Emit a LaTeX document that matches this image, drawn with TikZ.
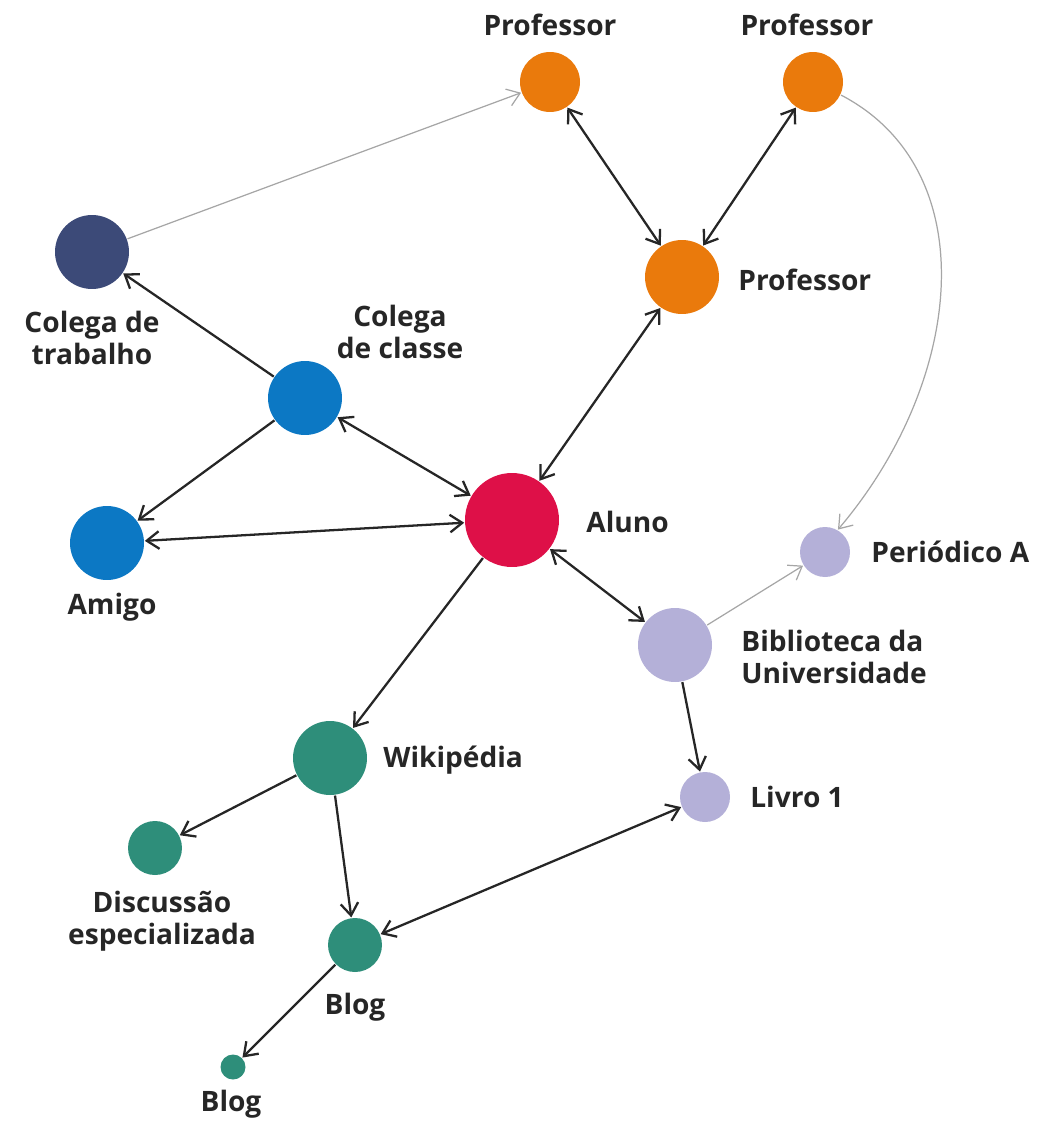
\documentclass[tikz,border=0pt]{standalone}
\usepackage{fontspec}
\setmainfont{Open Sans}
\usetikzlibrary{arrows.meta}
\definecolor{laranja}{RGB}{234,122,12}
\definecolor{marinho}{RGB}{60,74,120}
\definecolor{azul}{RGB}{12,120,196}
\definecolor{vermelho}{RGB}{222,16,72}
\definecolor{lilas}{RGB}{180,176,216}
\definecolor{verde}{RGB}{46,142,122}
\begin{document}
\begin{tikzpicture}[x=0.02cm,y=-0.02cm,font=\fontsize{16}{18}\selectfont\bfseries]
\useasboundingbox (0,0) rectangle (1043,1122);
\tikzstyle{pessoa}=[circle,inner sep=0pt,outer sep=0.5pt]
\tikzstyle{rotulo}=[align=center,inner sep=0pt,text=black!85]
\tikzstyle{edge}=[-{Straight Barb[length=7pt,width=10pt,line width=1.3pt]},line width=1.3pt,black!85]
\tikzstyle{dedge}=[{Straight Barb[length=7pt,width=10pt,line width=1.3pt]}-{Straight Barb[length=7pt,width=10pt,line width=1.3pt]},line width=1.3pt,black!85]
\tikzstyle{fraco}=[-{Straight Barb[length=7pt,width=10pt]},line width=0.7pt,black!35]
% professores
\node[pessoa,fill=laranja,minimum size=1.2cm] (P1) at (550,82) {};
\node[pessoa,fill=laranja,minimum size=1.2cm] (P2) at (813,82) {};
\node[pessoa,fill=laranja,minimum size=1.48cm] (P3) at (682,277) {};
\node[rotulo] (LP1) at (550,25) {Professor};
\node[rotulo] (LP2) at (807,25) {Professor};
\node[rotulo,anchor=west] (LP3) at (738,280) {Professor};
% colegas e amigo
\node[pessoa,fill=marinho,minimum size=1.48cm] (CT) at (92,252) {};
\node[pessoa,fill=azul,minimum size=1.48cm] (CC) at (305,398) {};
\node[pessoa,fill=azul,minimum size=1.48cm] (Am) at (107,543) {};
\node[rotulo] (LCT) at (92,338) {Colega de\\trabalho};
\node[rotulo] (LCC) at (400,332) {Colega\\de classe};
\node[rotulo] (LAm) at (112,607) {Amigo};
% aluno
\node[pessoa,fill=vermelho,minimum size=1.88cm] (Al) at (512,520) {};
\node[rotulo,anchor=west] (LAl) at (586,522) {Aluno};
% biblioteca
\node[pessoa,fill=lilas,minimum size=1.0cm] (Per) at (825,552) {};
\node[pessoa,fill=lilas,minimum size=1.48cm] (Bib) at (675,645) {};
\node[pessoa,fill=lilas,minimum size=1.0cm] (Liv) at (705,797) {};
\node[rotulo,anchor=west] (LPer) at (871,552) {Periódico A};
\node[rotulo,anchor=west,align=left] (LBib) at (741,657) {Biblioteca da\\Universidade};
\node[rotulo,anchor=west] (LLiv) at (750,797) {Livro 1};
% web
\node[pessoa,fill=verde,minimum size=1.48cm] (Wk) at (330,758) {};
\node[pessoa,fill=verde,minimum size=1.08cm] (Ds) at (155,848) {};
\node[pessoa,fill=verde,minimum size=1.08cm] (B1) at (355,945) {};
\node[pessoa,fill=verde,minimum size=0.5cm] (B2) at (233,1067) {};
\node[rotulo,anchor=west] (LWk) at (383,760) {Wikipédia};
\node[rotulo] (LDs) at (162,921) {Discussão\\especializada};
\node[rotulo] (LB1) at (355,1007) {Blog};
\node[rotulo] (LB2) at (231,1104) {Blog};
% ligacoes
\draw[fraco] (CT) -- (P1);
\draw[fraco] (P2.-25) .. controls (985,170) and (965,380) .. (Per.60);
\draw[fraco] (Bib) -- (Per);
\draw[dedge] (P1) -- (P3);
\draw[dedge] (P2) -- (P3);
\draw[dedge] (P3) -- (Al);
\draw[edge] (CC) -- (CT);
\draw[edge] (CC) -- (Am);
\draw[dedge] (CC) -- (Al);
\draw[dedge] (Am) -- (Al);
\draw[dedge] (Al) -- (Bib);
\draw[edge] (Bib) -- (Liv);
\draw[edge] (Al) -- (Wk);
\draw[edge] (Wk) -- (Ds);
\draw[edge] (Wk) -- (B1);
\draw[dedge] (B1) -- (Liv);
\draw[edge] (B1) -- (B2);
\end{tikzpicture}
\end{document}
